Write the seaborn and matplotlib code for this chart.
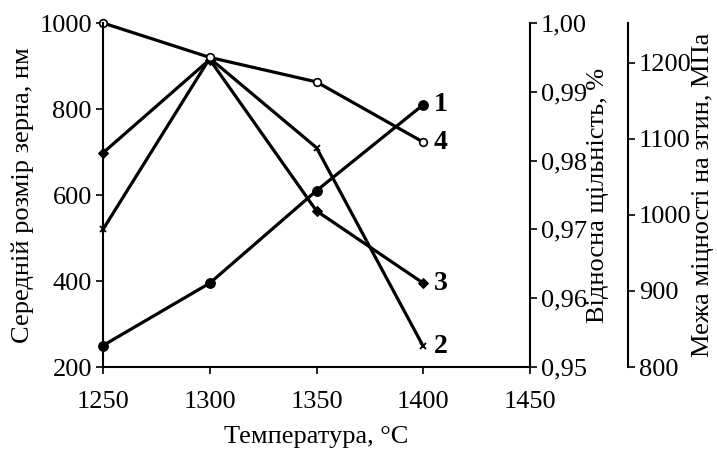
import matplotlib
matplotlib.use("Agg")
import matplotlib.pyplot as plt
import seaborn as sns
import pandas as pd
from matplotlib.ticker import FuncFormatter

sns.set_theme(style="white")
plt.rcParams['font.family'] = ['Liberation Serif', 'DejaVu Serif']
plt.rcParams['text.color'] = 'black'
plt.rcParams['axes.labelcolor'] = 'black'

temps = [1250, 1300, 1350, 1400]
s1 = [250, 395, 610, 810]
s2 = [520, 918, 710, 248]
s3 = [698, 915, 563, 395]
s4 = [1000, 920, 863, 723]
series_names = ["1", "2", "3", "4"]
density_ticks = [0.95, 0.96, 0.97, 0.98, 0.99, 1.00]
strength_ticks = [800, 900, 1000, 1100, 1200]

FS = 19
fig = plt.figure(figsize=(7.17, 4.66), dpi=100)
ax = fig.add_axes([103/717, 1-367/466, (530-103)/717, (367-23)/466])

styles = {
    "1": dict(marker="o", markersize=7, markerfacecolor="black", markeredgecolor="black"),
    "2": dict(marker="x", markersize=5, markeredgewidth=1.3, markeredgecolor="black"),
    "3": dict(marker="D", markersize=5, markerfacecolor="black", markeredgecolor="black"),
    "4": dict(marker="o", markersize=5.5, markerfacecolor="white", markeredgecolor="black", markeredgewidth=1.2),
}
for name, vals in zip(series_names, [s1, s2, s3, s4]):
    df = pd.DataFrame({"T": temps, "v": vals})
    sns.lineplot(data=df, x="T", y="v", ax=ax, color="black", linewidth=2.3, clip_on=False, **styles[name])
    ax.text(temps[-1] + 5, vals[-1], name, fontsize=FS + 1, fontweight="bold", va="center", ha="left", color="black")

ax.set_xlim(1250, 1450)
ax.set_ylim(200, 1000)
ax.set_xticks([1250, 1300, 1350, 1400, 1450])
ax.set_yticks([200, 400, 600, 800, 1000])
ax.set_xlabel("Температура, °C", fontsize=FS, labelpad=10, color="black")
ax.set_ylabel("Середній розмір зерна, нм", fontsize=FS, labelpad=4, color="black")
for s in ["top", "right"]:
    ax.spines[s].set_visible(False)
for s in ["left", "bottom"]:
    ax.spines[s].set_color("black")
    ax.spines[s].set_linewidth(1.5)
ax.tick_params(axis="both", direction="out", length=5, width=1.2, colors="black", labelsize=FS, pad=3, left=True, bottom=True)
ax.tick_params(axis="x", pad=12)

comma = FuncFormatter(lambda v, p: f"{v:.2f}".replace(".", ","))
ax2 = ax.twinx()
ax2.set_ylim(0.95, 1.00)
ax2.set_yticks(density_ticks)
ax2.yaxis.set_major_formatter(comma)
ax2.set_ylabel("Відносна щільність, %", fontsize=FS, labelpad=0, color="black")
for s in ["top", "left", "bottom"]:
    ax2.spines[s].set_visible(False)
ax2.spines["right"].set_color("black")
ax2.spines["right"].set_linewidth(1.5)
ax2.tick_params(axis="y", direction="out", length=5, width=1.2, colors="black", labelsize=FS, pad=3, right=True)
ax2.grid(False)

ax3 = ax.twinx()
ax3.spines["right"].set_position(("axes", (628-103)/(530-103)))
ax3.set_ylim(800, 1252)
ax3.set_yticks(strength_ticks)
ax3.set_ylabel("Межа міцності на згин, МПа", fontsize=FS, labelpad=0, color="black")
for s in ["top", "left", "bottom"]:
    ax3.spines[s].set_visible(False)
ax3.spines["right"].set_color("black")
ax3.spines["right"].set_linewidth(1.5)
ax3.tick_params(axis="y", direction="out", length=5, width=1.2, colors="black", labelsize=FS, pad=3, right=True)
ax3.grid(False)
ax.grid(False)

fig.savefig("out.png", dpi=100)
